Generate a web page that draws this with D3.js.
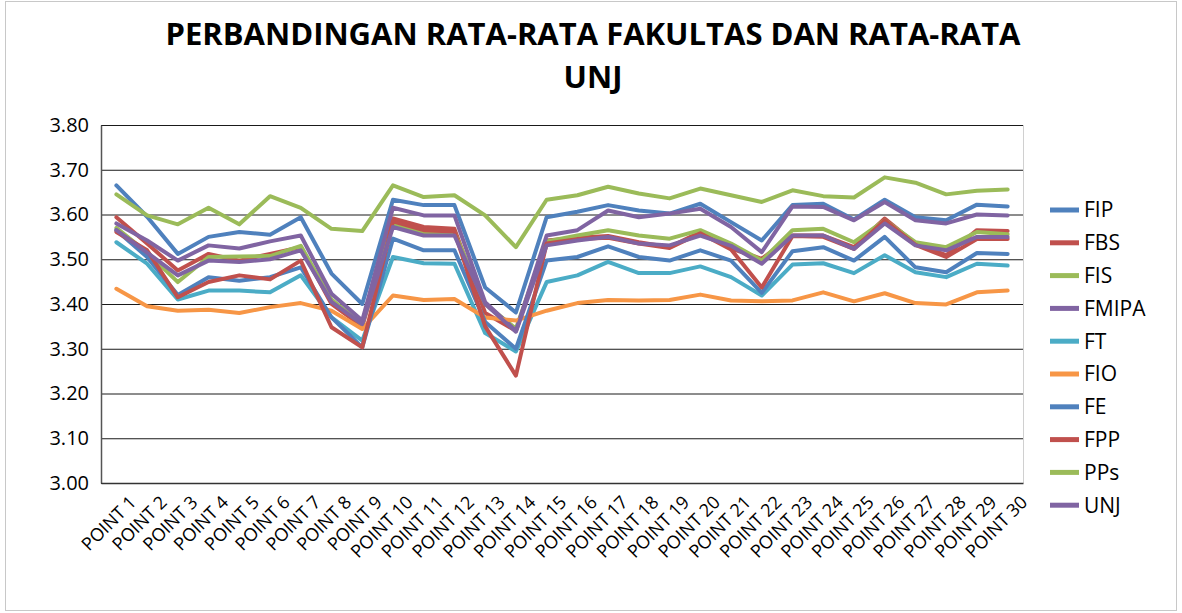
<!DOCTYPE html>
<html>
<head>
<meta charset="utf-8">
<script src="https://cdn.jsdelivr.net/npm/d3@7"></script>
<style>
  body { margin: 0; background: #fff; }
  svg { display: block; }
</style>
</head>
<body>
<svg id="chart" width="1182" height="613"></svg>
<script>
var width = 1182,
    height = 613;

// categories (x axis)
var categories = ["POINT 1", "POINT 2", "POINT 3", "POINT 4", "POINT 5", "POINT 6", "POINT 7", "POINT 8", "POINT 9", "POINT 10",
    "POINT 11", "POINT 12", "POINT 13", "POINT 14", "POINT 15", "POINT 16", "POINT 17", "POINT 18", "POINT 19", "POINT 20",
    "POINT 21", "POINT 22", "POINT 23", "POINT 24", "POINT 25", "POINT 26", "POINT 27", "POINT 28", "POINT 29", "POINT 30"]

var yTicks = [3.00, 3.10, 3.20, 3.30, 3.40, 3.50, 3.60, 3.70, 3.80]

var seriesNames = ["FIP", "FBS", "FIS", "FMIPA", "FT", "FIO", "FE", "FPP", "PPs", "UNJ"]

// values
var FIP = [3.665, 3.595, 3.512, 3.550, 3.561, 3.555, 3.594, 3.468, 3.400, 3.633, 3.621, 3.621, 3.437, 3.381, 3.594,
    3.606, 3.621, 3.609, 3.602, 3.624, 3.583, 3.542, 3.621, 3.624, 3.589, 3.633, 3.594, 3.587, 3.622, 3.618]
var FBS = [3.594, 3.535, 3.475, 3.512, 3.497, 3.512, 3.527, 3.400, 3.350, 3.591, 3.572, 3.568, 3.380, 3.340, 3.542,
    3.548, 3.552, 3.538, 3.527, 3.561, 3.524, 3.501, 3.553, 3.553, 3.527, 3.591, 3.535, 3.509, 3.565, 3.563]
var FIS = [3.570, 3.515, 3.449, 3.505, 3.506, 3.507, 3.530, 3.410, 3.355, 3.578, 3.560, 3.560, 3.400, 3.345, 3.540,
    3.553, 3.565, 3.553, 3.546, 3.565, 3.535, 3.497, 3.565, 3.568, 3.538, 3.587, 3.538, 3.527, 3.561, 3.556]
var FMIPA = [3.580, 3.542, 3.497, 3.531, 3.524, 3.540, 3.553, 3.423, 3.363, 3.615, 3.598, 3.598, 3.404, 3.340, 3.553,
    3.565, 3.609, 3.594, 3.602, 3.613, 3.572, 3.516, 3.618, 3.617, 3.587, 3.628, 3.587, 3.580, 3.600, 3.598]
var FT = [3.538, 3.490, 3.410, 3.430, 3.430, 3.426, 3.464, 3.370, 3.318, 3.505, 3.491, 3.490, 3.335, 3.294, 3.449,
    3.464, 3.494, 3.469, 3.469, 3.484, 3.460, 3.419, 3.488, 3.491, 3.469, 3.509, 3.471, 3.460, 3.490, 3.486]
var FIO = [3.434, 3.395, 3.385, 3.387, 3.380, 3.393, 3.402, 3.385, 3.344, 3.419, 3.409, 3.411, 3.370, 3.363, 3.385,
    3.402, 3.409, 3.408, 3.409, 3.421, 3.408, 3.406, 3.408, 3.426, 3.406, 3.424, 3.402, 3.399, 3.426, 3.430]
var FE = [3.565, 3.505, 3.420, 3.460, 3.452, 3.460, 3.482, 3.370, 3.303, 3.546, 3.520, 3.520, 3.360, 3.300, 3.497,
    3.505, 3.529, 3.505, 3.497, 3.520, 3.497, 3.425, 3.518, 3.527, 3.497, 3.550, 3.482, 3.471, 3.514, 3.512]
var FPP = [3.561, 3.520, 3.415, 3.449, 3.464, 3.455, 3.497, 3.348, 3.303, 3.585, 3.565, 3.562, 3.350, 3.240, 3.535,
    3.545, 3.548, 3.535, 3.525, 3.558, 3.522, 3.437, 3.552, 3.550, 3.523, 3.587, 3.532, 3.505, 3.545, 3.545]
var PPs = [3.645, 3.598, 3.578, 3.615, 3.578, 3.641, 3.615, 3.568, 3.563, 3.665, 3.639, 3.643, 3.598, 3.527, 3.633,
    3.643, 3.662, 3.647, 3.636, 3.658, 3.643, 3.628, 3.654, 3.641, 3.638, 3.683, 3.671, 3.645, 3.653, 3.656]
var UNJ = [3.565, 3.515, 3.464, 3.497, 3.494, 3.500, 3.520, 3.405, 3.355, 3.572, 3.553, 3.553, 3.400, 3.338, 3.531,
    3.542, 3.550, 3.535, 3.531, 3.553, 3.530, 3.490, 3.553, 3.553, 3.523, 3.580, 3.531, 3.520, 3.550, 3.550]

var seriesValues = [FIP, FBS, FIS, FMIPA, FT, FIO, FE, FPP, PPs, UNJ]
var colors = ["#4F81BD", "#C0504D", "#9BBB59", "#8064A2", "#4BACC6", "#F79646", "#4F81BD", "#C0504D", "#9BBB59", "#8064A2"]

var plot = {left: 101, right: 1023, top: 125, bottom: 483}
var font = "'Open Sans', sans-serif"

var svg = d3.select("#chart")

// outer border of the chart
svg.append("rect")
    .attr("x", 5.5).attr("y", 1.5)
    .attr("width", width - 11).attr("height", height - 4)
    .attr("fill", "#fff")
    .attr("stroke", "#c8c8c8")

// title
var title = svg.append("text")
    .attr("text-anchor", "middle")
    .style("font-family", font)
    .style("font-weight", "bold")
    .style("font-size", "31px")
    .style("fill", "#000")
title.append("tspan").attr("x", 593).attr("y", 45).text("PERBANDINGAN RATA-RATA FAKULTAS DAN RATA-RATA")
title.append("tspan").attr("x", 593).attr("y", 88).text("UNJ")

var x = d3.scalePoint()
    .domain(categories)
    .range([plot.left, plot.right])
    .padding(0.5)

var y = d3.scaleLinear()
    .domain([3.0, 3.8])
    .range([plot.bottom, plot.top])

// gridlines
svg.append("g")
    .attr("class", "grid")
    .attr("transform", "translate(" + plot.left + ",0)")
    .call(d3.axisLeft(y).tickValues(yTicks).tickSize(-(plot.right - plot.left)).tickFormat(""))
    .call(function (g) {
        g.select(".domain").remove()
        g.selectAll("line").attr("stroke", "#1a1a1a").attr("stroke-width", 1)
    })

// right border of plot area
svg.append("line")
    .attr("x1", plot.right + 0.5).attr("x2", plot.right + 0.5)
    .attr("y1", plot.top).attr("y2", plot.bottom)
    .attr("stroke", "#d0d0d0")

// y axis
svg.append("g")
    .attr("transform", "translate(" + plot.left + ",0)")
    .call(d3.axisLeft(y).tickValues(yTicks).tickSize(0).tickPadding(12).tickFormat(d3.format(".2f")))
    .call(function (g) {
        g.select(".domain").attr("stroke", "#555").attr("stroke-width", 1.5)
        g.selectAll("text")
            .style("font-family", font)
            .style("font-size", "20px")
            .style("fill", "#000")
    })

// x axis
svg.append("g")
    .attr("transform", "translate(0," + plot.bottom + ")")
    .call(d3.axisBottom(x).tickSize(0).tickPadding(0))
    .call(function (g) {
        g.select(".domain").attr("stroke", "#333").attr("stroke-width", 1.5)
        g.selectAll("text")
            .style("font-family", font)
            .style("font-size", "18px")
            .style("fill", "#000")
            .attr("text-anchor", "end")
            .attr("dy", "0.35em")
            .attr("transform", "translate(16,16) rotate(-45)")
    })

// lines
var line = d3.line()
    .x(function (d, i) { return x(categories[i]) })
    .y(function (d) { return y(d) })

svg.append("g")
    .attr("class", "series")
    .selectAll("path")
    .data(seriesValues)
    .enter().append("path")
    .attr("d", line)
    .attr("fill", "none")
    .attr("stroke", function (d, i) { return colors[i] })
    .attr("stroke-width", 4)
    .attr("stroke-linejoin", "round")
    .attr("stroke-linecap", "round")

// legend
var legend = svg.append("g")
    .attr("class", "legend")
    .selectAll("g")
    .data(seriesNames)
    .enter().append("g")
    .attr("transform", function (d, i) { return "translate(1050," + (210 + i * 32.8) + ")" })

legend.append("line")
    .attr("x1", 0).attr("x2", 29)
    .attr("stroke", function (d, i) { return colors[i] })
    .attr("stroke-width", 5)

legend.append("text")
    .attr("x", 34)
    .attr("dy", "0.35em")
    .style("font-family", font)
    .style("font-size", "21px")
    .style("fill", "#000")
    .text(function (d) { return d })
</script>
</body>
</html>
